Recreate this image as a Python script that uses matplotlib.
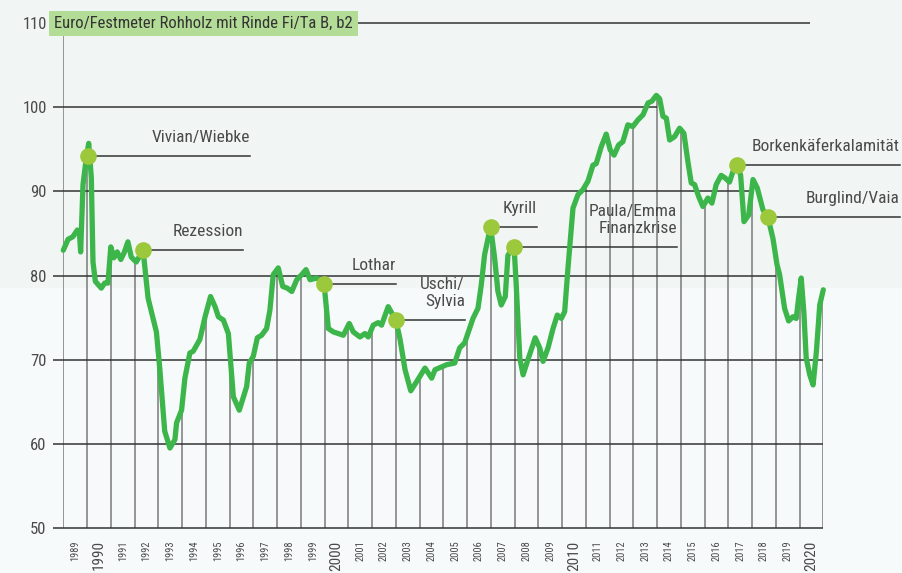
import numpy as np
import matplotlib
matplotlib.use('Agg')
import matplotlib.pyplot as plt
from matplotlib import font_manager
from matplotlib.patches import Rectangle

# price curve, Euro per Festmeter
t_pts = [1989.00, 1989.20, 1989.40, 1989.59, 1989.68, 1989.73, 1989.83, 1989.97, 1990.07, 1990.18,
         1990.25, 1990.35, 1990.60, 1990.74, 1990.88, 1991.00, 1991.13, 1991.27, 1991.42, 1991.56,
         1991.72, 1991.86, 1992.07, 1992.36, 1992.57, 1992.92, 1993.06, 1993.27, 1993.49, 1993.70,
         1993.77, 1993.98, 1994.12, 1994.33, 1994.47, 1994.75, 1994.97, 1995.20, 1995.39, 1995.53,
         1995.74, 1995.95, 1996.16, 1996.41, 1996.72, 1996.83, 1997.00, 1997.17, 1997.35, 1997.56,
         1997.70, 1997.84, 1998.05, 1998.24, 1998.43, 1998.62, 1998.83, 1999.04, 1999.22, 1999.39,
         1999.67, 1999.98, 2000.16, 2000.37, 2000.79, 2001.04, 2001.21, 2001.49, 2001.70, 2001.84,
         2002.05, 2002.26, 2002.40, 2002.68, 2003.00, 2003.18, 2003.39, 2003.63, 2003.88, 2004.23,
         2004.51, 2004.65, 2005.14, 2005.48, 2005.69, 2005.90, 2006.25, 2006.46, 2006.60, 2006.74,
         2006.99, 2007.16, 2007.30, 2007.44, 2007.61, 2007.72, 2007.98, 2008.07, 2008.22, 2008.36,
         2008.54, 2008.68, 2008.87, 2009.06, 2009.20, 2009.41, 2009.62, 2009.80, 2009.97, 2010.11,
         2010.25, 2010.46, 2010.67, 2010.88, 2011.09, 2011.30, 2011.44, 2011.65, 2011.86, 2012.03,
         2012.19, 2012.38, 2012.56, 2012.77, 2012.98, 2013.20, 2013.41, 2013.62, 2013.78, 2013.97,
         2014.11, 2014.25, 2014.39, 2014.53, 2014.74, 2014.95, 2015.13, 2015.30, 2015.44, 2015.58,
         2015.75, 2015.93, 2016.14, 2016.31, 2016.49, 2016.70, 2016.86, 2017.05, 2017.19, 2017.38,
         2017.52, 2017.66, 2017.86, 2018.04, 2018.22, 2018.46, 2018.67, 2018.88, 2019.05, 2019.16,
         2019.37, 2019.54, 2019.72, 2019.86, 2019.96, 2020.07, 2020.18, 2020.28, 2020.43, 2020.57,
         2020.71, 2020.85, 2021.00]
price = [83.0, 84.3, 84.6, 85.4, 85.0, 82.8, 90.8, 94.0, 95.7, 91.6,
         81.6, 79.3, 78.5, 79.1, 79.1, 83.4, 82.1, 82.8, 81.9, 82.7,
         84.0, 82.2, 81.6, 83.0, 77.3, 73.3, 69.0, 61.5, 59.5, 60.5,
         62.5, 64.0, 67.8, 70.8, 71.0, 72.4, 75.1, 77.5, 76.3, 75.1,
         74.7, 73.1, 65.6, 64.0, 66.8, 69.6, 70.4, 72.6, 72.9, 73.7,
         75.9, 80.1, 80.9, 78.7, 78.5, 78.1, 79.5, 80.1, 80.7, 79.5,
         79.7, 79.0, 73.7, 73.3, 72.9, 74.3, 73.3, 72.7, 73.1, 72.7,
         74.1, 74.4, 74.1, 76.3, 74.7, 72.4, 68.8, 66.3, 67.4, 69.0,
         67.8, 68.8, 69.4, 69.6, 71.4, 72.0, 74.9, 76.1, 78.9, 82.5,
         85.8, 82.1, 78.1, 76.5, 77.5, 82.4, 83.4, 78.9, 70.2, 68.2,
         69.8, 71.0, 72.6, 71.4, 69.8, 71.4, 73.7, 75.3, 74.9, 75.7,
         80.9, 88.0, 89.6, 90.2, 91.2, 93.1, 93.3, 95.3, 96.8, 94.9,
         94.3, 95.5, 95.9, 97.9, 97.7, 98.5, 99.1, 100.5, 100.7, 101.4,
         101.0, 98.9, 98.7, 96.1, 96.5, 97.5, 96.9, 93.5, 91.0, 90.8,
         89.4, 88.2, 89.2, 88.6, 90.8, 91.9, 91.6, 91.1, 92.3, 93.1,
         91.9, 86.4, 87.2, 91.4, 90.4, 87.8, 86.9, 84.4, 81.3, 80.1,
         76.1, 74.6, 75.1, 74.9, 77.3, 79.7, 75.7, 70.2, 68.2, 67.0,
         71.0, 76.5, 78.3]

# events
ev_names = ['Vivian/Wiebke', 'Rezession', 'Lothar', 'Uschi/\nSylvia', 'Kyrill',
            'Paula/Emma\nFinanzkrise', 'Borkenkäferkalamität', 'Burglind/Vaia']
ev_t = [1990.03, 1992.36, 1999.98, 2003.00, 2006.99, 2007.98, 2017.38, 2018.67]
ev_val = [94.2, 83.0, 79.0, 74.7, 85.8, 83.4, 93.1, 86.9]

years = list(range(1989, 2021))
y_levels = [50, 60, 70, 80, 90, 100, 110]
unit_label = 'Euro/Festmeter Rohholz mit Rinde Fi/Ta B, b2'

# where the leader lines of the labels end (x in years)
ev_line_end = [1996.87, 1996.57, 2003.0, 2005.91, 2008.93, 2014.83, 2024.22, 2024.22]

# pick a narrow font if there is one
names = {f.name for f in font_manager.fontManager.ttflist}
font = 'DejaVu Sans'
for cand in ['Liberation Sans Narrow', 'Roboto Condensed', 'Open Sans Condensed', 'Arial Narrow']:
    if cand in names:
        font = cand
        break
plt.rcParams['font.family'] = [font, 'DejaVu Sans']

txt_col = '#4a4a4a'
line_green = '#3cb64a'
dot_green = '#9cc83c'

fig = plt.figure(figsize=(9.03, 5.73), dpi=100)
fig.patch.set_facecolor('#f7fafa')
fig.patches.append(Rectangle((0, 1 - 288 / 573), 1, 288 / 573, transform=fig.transFigure,
                             facecolor='#f1f5f4', edgecolor='none', zorder=-10))

ax = fig.add_axes([63.3 / 903, 45 / 573, 760 / 903, 505 / 573])
ax.set_facecolor('none')
ax.set_xlim(1989, 2021)
ax.set_ylim(50, 110)
for s in ax.spines.values():
    s.set_visible(False)

t_arr = np.array(t_pts)
p_arr = np.array(price)

# vertical grid, only up to the curve
bounds = np.arange(1989, 2022)
tops = np.interp(bounds, t_arr, p_arr)
tops[0] = 110
ax.vlines(bounds, 50, tops, color='#7a7a7a', lw=1.1, zorder=1)

# horizontal grid: runs to the last year line that still reaches the level
x_start = 1988.58
for lv in y_levels:
    if lv == 50:
        x_end = 2021
    elif lv == 110:
        x_end = 2020.44
    else:
        ok = bounds[tops >= lv]
        x_end = ok.max()
    ax.hlines(lv, x_start, x_end, color='#333333', lw=1.1, zorder=1, clip_on=False)

ax.plot(t_arr, p_arr, color=line_green, lw=3.8, solid_joinstyle='round',
        solid_capstyle='round', zorder=3, clip_on=False)

# event markers + leader lines + labels
for name, et, ev, xe in zip(ev_names, ev_t, ev_val, ev_line_end):
    ax.plot([et, xe], [ev, ev], color='#333333', lw=1.1, zorder=2, clip_on=False)
    ax.plot(et, ev, 'o', ms=12, color=dot_green, mec='none', zorder=4, clip_on=False)
    ax.annotate(name, (xe, ev), xytext=(0, 8), textcoords='offset points',
                ha='right', va='bottom', multialignment='right', fontsize=12.5,
                color=txt_col, linespacing=1.15, annotation_clip=False)

# unit label box at the top
ax.text(1988.62, 110, unit_label, ha='left', va='center', fontsize=12, color='#333333',
        zorder=5, clip_on=False,
        bbox=dict(boxstyle='square,pad=0.3', facecolor='#b3dc96', edgecolor='none'))

# y ticks
ax.set_yticks(y_levels)
ax.set_yticklabels([str(v) for v in y_levels], fontsize=12, color=txt_col)
ax.tick_params(axis='y', length=0, pad=12)

# x ticks, centred in each year, decades bigger
ax.set_xticks([y + 0.5 for y in years])
ax.set_xticklabels([str(y) for y in years], rotation=90, va='top', ha='center', color=txt_col)
for lab, y in zip(ax.get_xticklabels(), years):
    lab.set_fontsize(11 if y % 10 == 0 else 7.5)
ax.tick_params(axis='x', length=0, pad=9)

fig.savefig('out.png', dpi=100, facecolor=fig.get_facecolor())
